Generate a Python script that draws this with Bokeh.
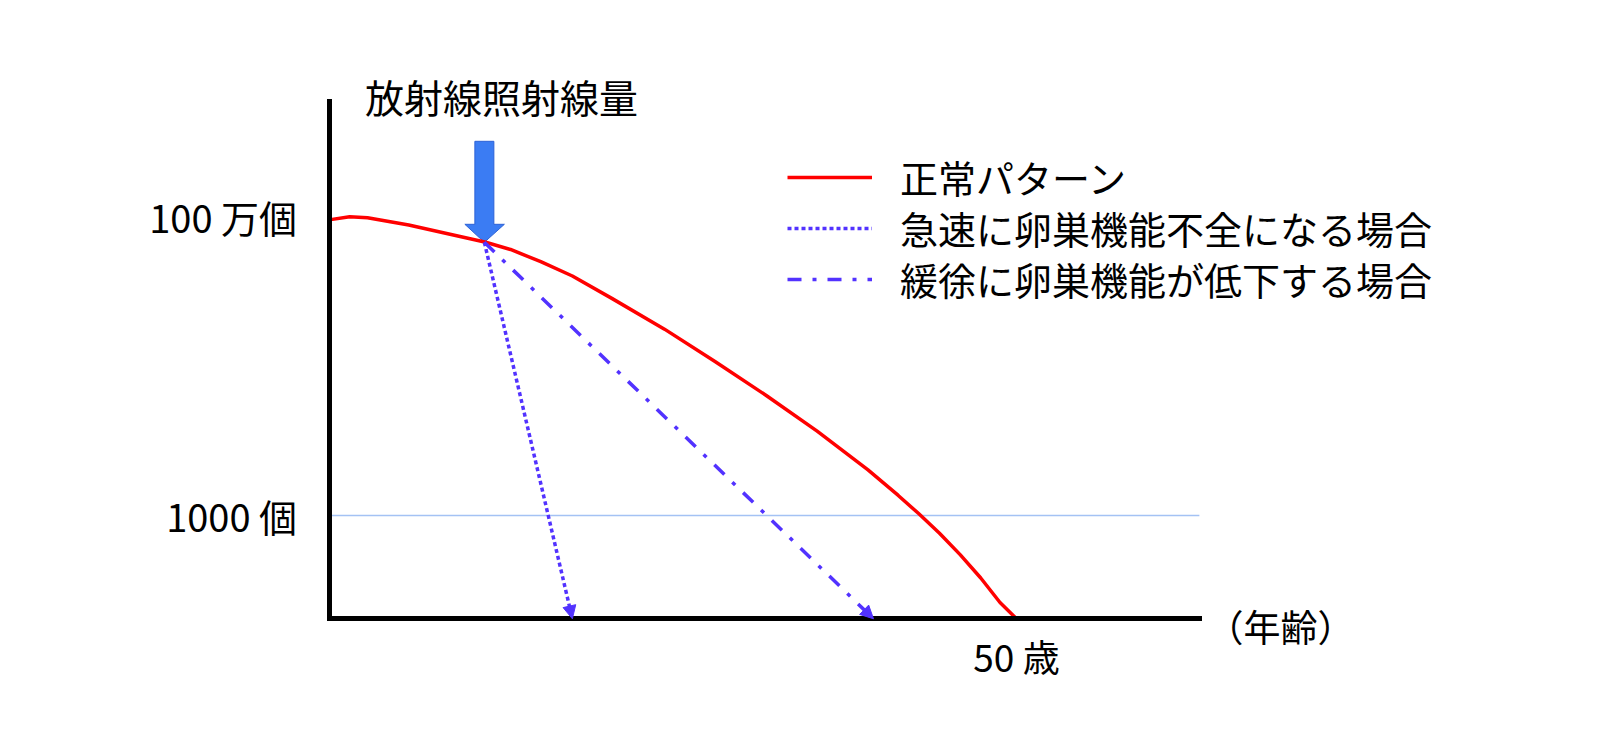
import math
from bokeh.plotting import figure
from bokeh.models import Range1d, FixedTicker, Label, Arrow, NormalHead, Legend, LegendItem
from bokeh.embed import file_html
from bokeh.resources import INLINE

# ---- data ----
normal_age = [0, 1.5, 2.8, 5.8, 8.8, 11.4, 13.2, 15.4, 17.7, 20.6, 24.4, 28.1, 31.8, 35.5,
              39.2, 41.4, 42.9, 44.4, 45.9, 47.4, 48.8, 50.0]
normal_count = [925000, 994000, 970000, 822000, 664000, 551000, 467000, 352000, 253000, 150000,
                74100, 34900, 16000, 7030, 2870, 1590, 1040, 664, 405, 236, 134, 92]
irradiation_age = 11.3
irradiation_count = 551000
rapid_end_age = 17.7
gradual_end_age = 39.6
floor_count = 92          # level of the age axis
axis_top_count = 1.425e7  # top of the count axis
axis_end_age = 63.3       # right end of the age axis
reference_level = 1000
y_ticks = [1000, 1000000]
y_tick_labels = ["1000 個", "100 万個"]
x_ticks = [50]
x_tick_labels = ["50 歳"]
series_labels = ["正常パターン", "急速に卵巣機能不全になる場合", "緩徐に卵巣機能が低下する場合"]
title_text = "放射線照射線量"
x_unit_text = "（年齢）"

FONT = "Noto Sans CJK JP"
RED = "#ff0000"
VIOLET = "#5232ff"

W, H = 1600, 746
X0, X1 = -23.891, 92.473
Y0, Y1 = 4.814, 1.4696e8

p = figure(width=W, height=H, output_backend="svg", toolbar_location=None,
           x_range=Range1d(X0, X1), y_range=Range1d(Y0, Y1), y_axis_type="log",
           min_border=0)
p.outline_line_color = None
p.xgrid.visible = False
p.ygrid.visible = False
p.background_fill_color = "white"
p.border_fill_color = "white"

for ax in (p.xaxis[0], p.yaxis[0]):
    ax.axis_line_color = "black"
    ax.axis_line_width = 5
    ax.axis_line_cap = "square"
    ax.major_tick_line_color = None
    ax.minor_tick_line_color = None
    ax.major_label_text_font = FONT
    ax.major_label_text_color = "black"

p.yaxis.fixed_location = 0
p.yaxis.bounds = (floor_count, axis_top_count)
p.yaxis.ticker = FixedTicker(ticks=y_ticks)
p.yaxis.major_label_overrides = {int(t): l for t, l in zip(y_ticks, y_tick_labels)}
p.yaxis.major_label_text_font_size = "38px"
p.yaxis.major_label_standoff = 26

p.xaxis.fixed_location = floor_count
p.xaxis.bounds = (0, axis_end_age)
p.xaxis.ticker = FixedTicker(ticks=x_ticks)
p.xaxis.major_label_overrides = {int(t): l for t, l in zip(x_ticks, x_tick_labels)}
p.xaxis.major_label_text_font_size = "37px"
p.xaxis.major_label_standoff = 4

# reference level line
p.segment(x0=0, y0=reference_level, x1=axis_end_age, y1=reference_level,
          line_color="#a4c2f4", line_width=1.5)

# block arrow marking irradiation (shape given in pixel offsets from its tip)
px_per_x = W / (X1 - X0)
px_per_dec = H / (math.log10(Y1) - math.log10(Y0))
shape = [(0, 0), (20, 18), (9.5, 18), (9.5, 101), (-9.5, 101), (-9.5, 18), (-19.5, 18)]
bx = [irradiation_age + dx / px_per_x for dx, dy in shape]
by = [10 ** (math.log10(irradiation_count) + dy / px_per_dec) for dx, dy in shape]
p.patch(bx, by, fill_color="#3b7cf3", line_color="#2d62d6", line_width=1)

# normal curve
r_norm = p.line(normal_age, normal_count, line_color=RED, line_width=3.5)

# rapid and gradual decline after irradiation
r_rapid = p.line([irradiation_age, rapid_end_age], [irradiation_count, floor_count],
                 line_color=VIOLET, line_width=3.5, line_dash="4 3")
r_grad = p.line([irradiation_age, gradual_end_age], [irradiation_count, floor_count],
                line_color=VIOLET, line_width=3.5, line_dash="14 11 4 11")
for end_age in (rapid_end_age, gradual_end_age):
    p.add_layout(Arrow(x_start=irradiation_age, y_start=irradiation_count,
                       x_end=end_age, y_end=floor_count, line_alpha=0,
                       end=NormalHead(size=13, fill_color=VIOLET, line_color=VIOLET, line_width=1)))

# one legend entry per row so the row pitch can match the reference
row_locations = [(787, 542), (787, 491), (787, 440)]
for label, renderer, loc in zip(series_labels, [r_norm, r_rapid, r_grad], row_locations):
    lg = Legend(items=[LegendItem(label=label, renderers=[renderer])], location=loc)
    lg.label_text_font = FONT
    lg.label_text_font_size = "38px"
    lg.label_text_color = "black"
    lg.glyph_width = 85
    lg.glyph_height = 40
    lg.label_height = 40
    lg.label_standoff = 28
    lg.padding = 0
    lg.margin = 0
    lg.border_line_color = None
    lg.background_fill_alpha = 0
    p.add_layout(lg, "center")

p.add_layout(Label(x=501, y=H - 95, x_units="screen", y_units="screen", text=title_text,
                   text_font=FONT, text_font_size="39px", text_align="center",
                   text_baseline="middle", text_color="black"))
p.add_layout(Label(x=1280, y=H - 625, x_units="screen", y_units="screen", text=x_unit_text,
                   text_font=FONT, text_font_size="37px", text_align="center",
                   text_baseline="middle", text_color="black"))

open("out.html", "w").write(file_html(p, INLINE))
